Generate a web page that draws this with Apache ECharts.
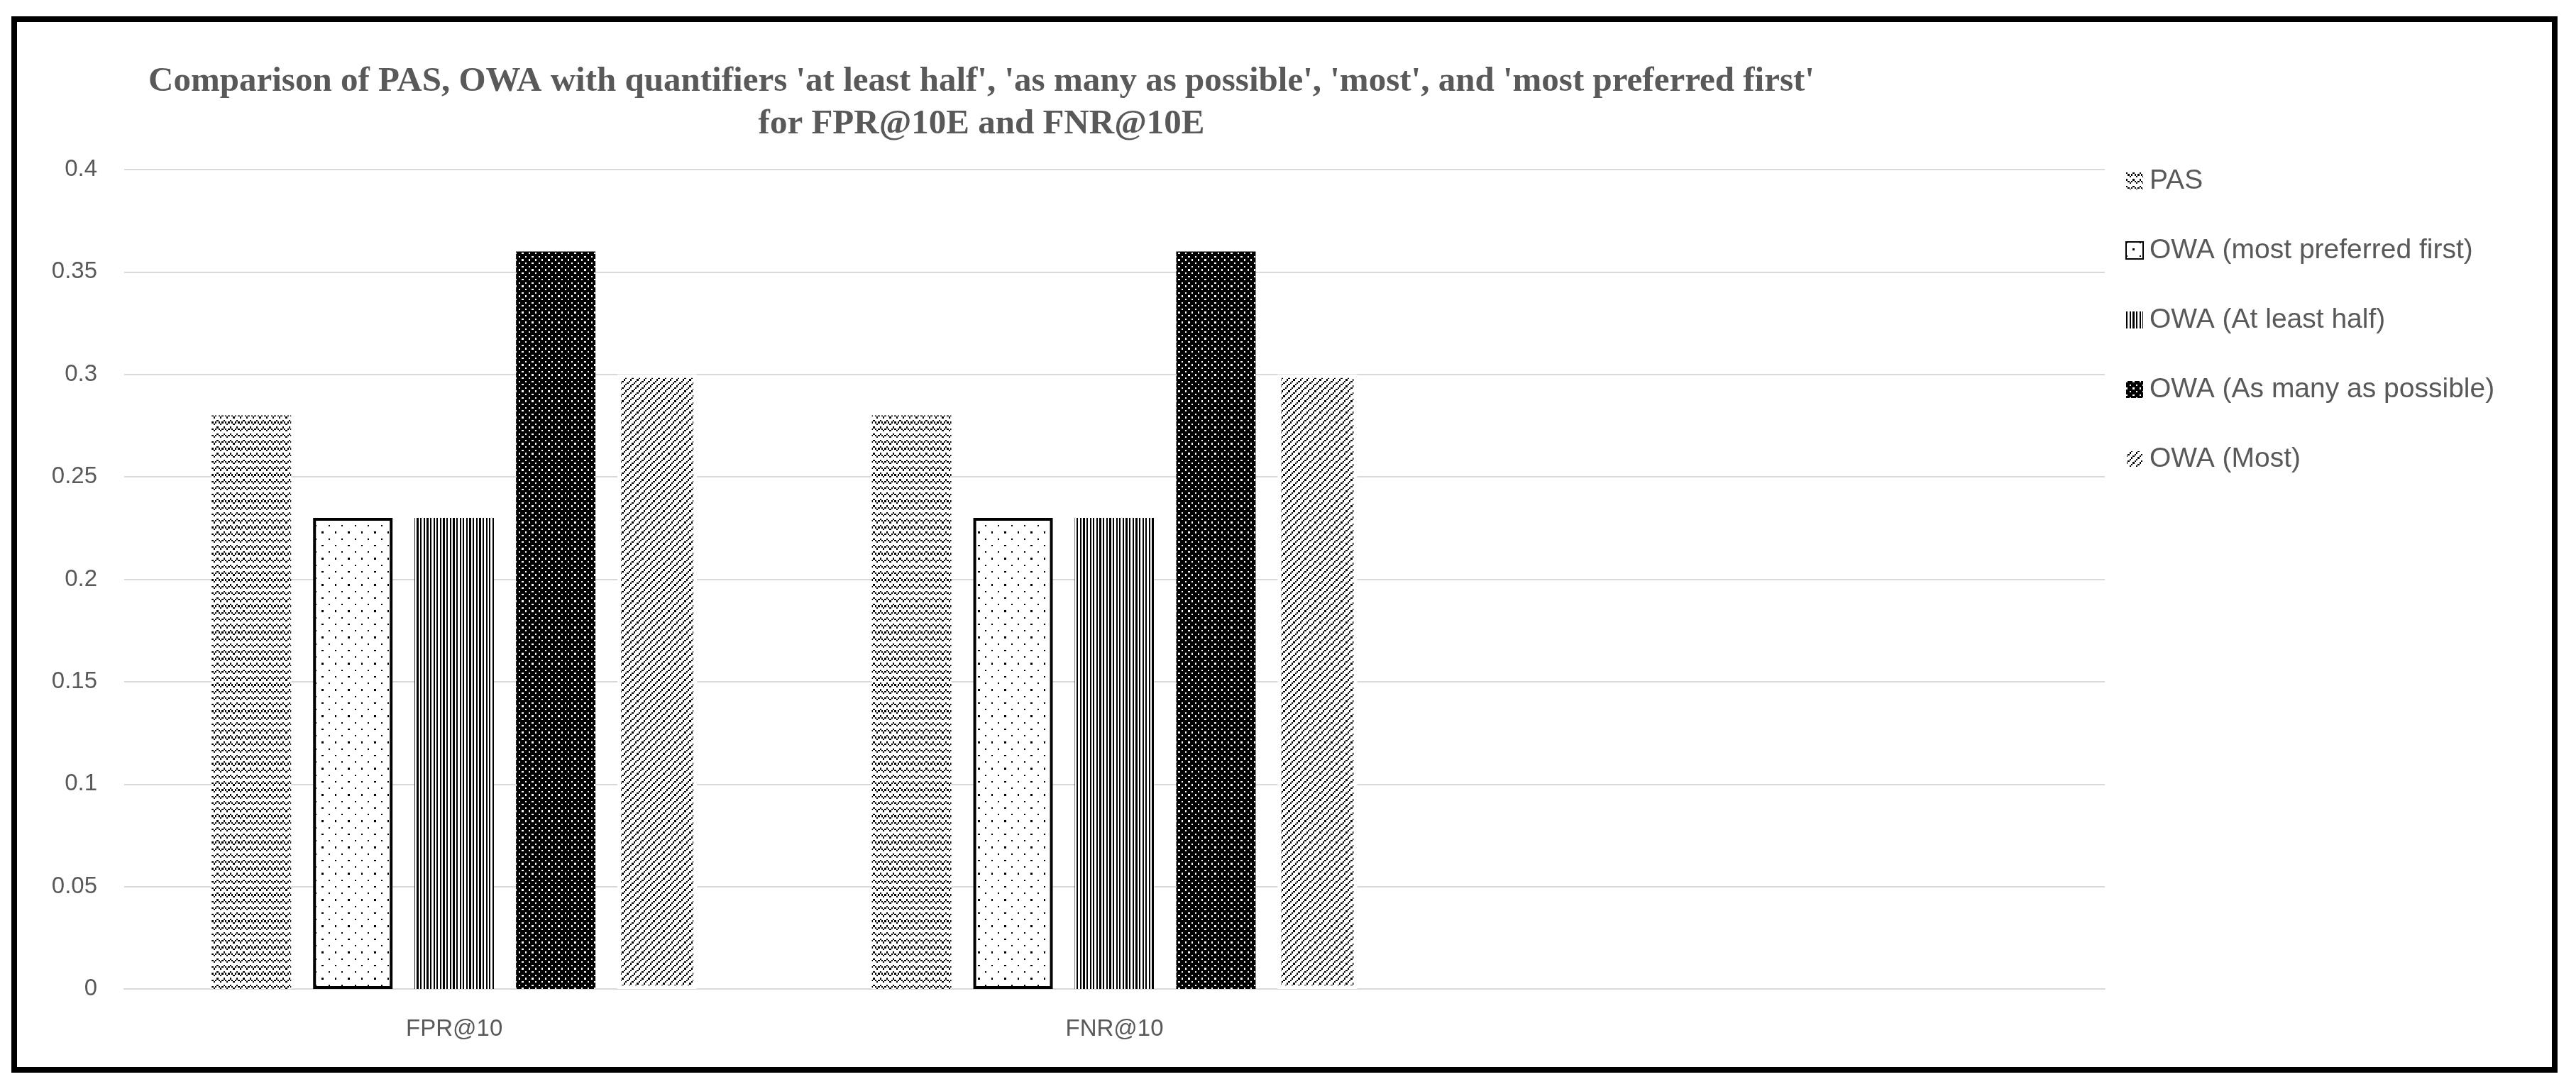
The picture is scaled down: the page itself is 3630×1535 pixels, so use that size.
<!DOCTYPE html>
<html>
<head>
<meta charset="utf-8">
<script src="https://cdn.jsdelivr.net/npm/echarts@6/dist/echarts.min.js"></script>
<style>
  html, body { margin: 0; padding: 0; background: #fff; }
  #chart { width: 3630px; height: 1535px; }
</style>
</head>
<body>
<div id="chart"></div>
<script>
// data
const categories = ['FPR@10', 'FNR@10', '']
const seriesNames = ['PAS', 'OWA (most preferred first)', 'OWA (At least half)', 'OWA (As many as possible)', 'OWA (Most)']
const pas = [0.28, 0.28]
const owaPreferred = [0.23, 0.23]
const owaHalf = [0.23, 0.23]
const owaMany = [0.36, 0.36]
const owaMost = [0.30, 0.30]
const yTicks = { min: 0, max: 0.4, step: 0.05 }

// 8x8 excel-like fill patterns, '1' = ink
const patZigzag = ['10001000', '01010101', '00100010', '00000000', '10001000', '01010101', '00100010', '00000000']
const patDots = ['10000000', '00000000', '00000000', '00000000', '00001000', '00000000', '00000000', '00000000']
const patVert = ['10101010', '10101010', '10101010', '10101010', '10101010', '10101010', '10101010', '10101010']
const patDark = ['01110111', '11111111', '11011101', '11111111', '01110111', '11111111', '11011101', '11111111']
const patDiag = ['00010001', '00100010', '01000100', '10001000', '00010001', '00100010', '01000100', '10001000']

function makePattern (bits) {
  const px = 2.315
  const size = Math.round(16 * px)
  const cv = document.createElement('canvas')
  cv.width = size
  cv.height = size
  const ctx = cv.getContext('2d')
  ctx.fillStyle = '#fff'
  ctx.fillRect(0, 0, size, size)
  ctx.fillStyle = '#000'
  for (let j = 0; j < 16; j++) {
    for (let i = 0; i < 16; i++) {
      if (bits[j % 8][i % 8] === '1') {
        const x0 = Math.round(i * px)
        const y0 = Math.round(j * px)
        ctx.fillRect(x0, y0, Math.round((i + 1) * px) - x0, Math.round((j + 1) * px) - y0)
      }
    }
  }
  return { image: cv, repeat: 'repeat' }
}

const chart = echarts.init(document.getElementById('chart'))

const gray = '#595959'
const barCommon = {
  type: 'bar',
  barGap: '27.7%',
  barCategoryGap: '26.5%'
}

const option = {
  backgroundColor: '#fff',
  animation: false,
  title: {
    text: "Comparison of PAS, OWA with quantifiers 'at least half', 'as many as possible', 'most', and 'most preferred first'\nfor FPR@10E and FNR@10E",
    left: 1378,
    top: 80,
    textAlign: 'center',
    textStyle: {
      fontFamily: 'Liberation Serif',
      fontWeight: 'bold',
      fontSize: 49,
      lineHeight: 60,
      color: gray
    }
  },
  legend: {
    orient: 'vertical',
    left: 2990,
    top: 230,
    itemWidth: 24,
    itemHeight: 24,
    itemGap: 58,
    icon: 'rect',
    textStyle: {
      fontFamily: 'Liberation Sans',
      fontSize: 39,
      lineHeight: 40,
      color: gray,
      padding: [0, 0, 0, 4]
    },
    data: seriesNames
  },
  grid: {
    left: 175,
    right: 664,
    top: 239,
    bottom: 141
  },
  xAxis: {
    type: 'category',
    data: categories,
    axisLine: { lineStyle: { color: '#d9d9d9', width: 2 } },
    axisTick: { show: false },
    axisLabel: {
      margin: 40,
      fontFamily: 'Liberation Sans',
      fontSize: 33,
      color: gray
    }
  },
  yAxis: {
    type: 'value',
    min: yTicks.min,
    max: yTicks.max,
    interval: yTicks.step,
    axisLine: { show: false },
    axisTick: { show: false },
    splitLine: { lineStyle: { color: '#d9d9d9', width: 2 } },
    axisLabel: {
      margin: 38,
      fontFamily: 'Liberation Sans',
      fontSize: 33,
      color: gray
    }
  },
  graphic: [
    {
      type: 'rect',
      z: -1,
      shape: { x: 20, y: 27, width: 3580, height: 1481 },
      style: { fill: 'none', stroke: '#000', lineWidth: 8 }
    }
  ],
  series: [
    Object.assign({}, barCommon, {
      name: seriesNames[0],
      data: pas,
      itemStyle: { color: makePattern(patZigzag) }
    }),
    Object.assign({}, barCommon, {
      name: seriesNames[1],
      data: owaPreferred,
      itemStyle: { color: makePattern(patDots), borderColor: '#000', borderWidth: 4 }
    }),
    Object.assign({}, barCommon, {
      name: seriesNames[2],
      data: owaHalf,
      itemStyle: { color: makePattern(patVert) }
    }),
    Object.assign({}, barCommon, {
      name: seriesNames[3],
      data: owaMany,
      itemStyle: { color: makePattern(patDark) }
    }),
    Object.assign({}, barCommon, {
      name: seriesNames[4],
      data: owaMost,
      itemStyle: { color: makePattern(patDiag), borderColor: '#fff', borderWidth: 5 }
    })
  ]
}

chart.setOption(option)
</script>
</body>
</html>
